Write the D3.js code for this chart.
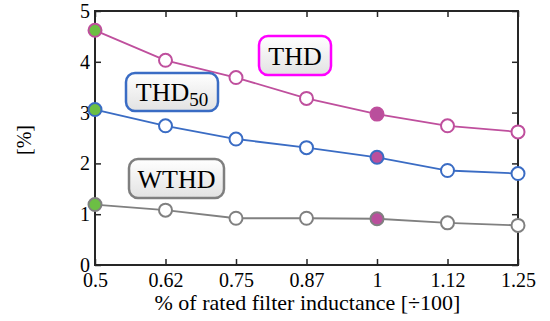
<!DOCTYPE html>
<html>
<head>
<meta charset="utf-8">
<script src="https://cdn.jsdelivr.net/npm/d3@7"></script>
</head>
<body style="margin:0">
<svg id="chart" width="550" height="321"></svg>
<script>
var categories = ["0.5", "0.62", "0.75", "0.87", "1", "1.12", "1.25"];
var thd   = [4.62, 4.03, 3.69, 3.28, 2.97, 2.74, 2.62];
var thd50 = [3.06, 2.74, 2.48, 2.31, 2.12, 1.86, 1.80];
var wthd  = [1.19, 1.08, 0.92, 0.92, 0.91, 0.83, 0.78];
var yTicks = [0, 1, 2, 3, 4, 5];

var serif = "Liberation Serif";

var margin = {left: 95, right: 32, top: 11, bottom: 56};
var width = 550 - margin.left - margin.right;
var height = 321 - margin.top - margin.bottom;

var svg = d3.select("#chart");
var g = svg.append("g").attr("transform", "translate(" + margin.left + "," + margin.top + ")");

var x = d3.scalePoint().domain(categories).range([0, width]);
var y = d3.scaleLinear().domain([0, 5]).range([height, 0]);

// frame
g.append("rect")
  .attr("width", width).attr("height", height)
  .attr("fill", "none").attr("stroke", "#262626").attr("stroke-width", 2);

// axes, ticks pointing inwards
var xAxis = g.append("g").attr("transform", "translate(0," + height + ")")
  .call(d3.axisBottom(x).tickSize(-6).tickPadding(8));
var yAxis = g.append("g")
  .call(d3.axisLeft(y).tickValues(yTicks).tickFormat(d3.format("d")).tickSize(-6).tickPadding(12));
g.append("g").call(d3.axisTop(x).tickSize(-6).tickFormat(""));
g.append("g").attr("transform", "translate(" + width + ",0)")
  .call(d3.axisRight(y).tickValues(yTicks).tickSize(-6).tickFormat(""));

g.selectAll(".domain").remove();
g.selectAll(".tick line").attr("stroke", "#262626").attr("stroke-width", 1.5);
g.selectAll("g").attr("font-family", serif).attr("font-size", 20);
g.selectAll(".tick text").attr("font-family", serif).attr("font-size", 20).attr("fill", "#000");
xAxis.selectAll(".tick text").attr("dy", "0.7em");
yAxis.selectAll(".tick text").attr("dx", "0.35em");

// axis titles
svg.append("text")
  .attr("x", margin.left + width / 2 + 1).attr("y", 310)
  .attr("text-anchor", "middle")
  .attr("font-family", serif).attr("font-size", 22)
  .text("% of rated filter inductance [\u00f7100]");
svg.append("text")
  .attr("transform", "translate(31," + (margin.top + height / 2 + 2) + ") rotate(-90)")
  .attr("text-anchor", "middle")
  .attr("font-family", serif).attr("font-size", 20)
  .text("[%]");

var series = [
  {name: "thd", values: thd, color: "#bf4f9d"},
  {name: "thd50", values: thd50, color: "#3a6cc4"},
  {name: "wthd", values: wthd, color: "#808080"}
];

var line = d3.line()
  .x(function(d, i) { return x(categories[i]); })
  .y(function(d) { return y(d); });

series.forEach(function(s) {
  g.append("path")
    .datum(s.values)
    .attr("d", line)
    .attr("fill", "none")
    .attr("stroke", s.color)
    .attr("stroke-width", 1.8);

  g.selectAll(".pt-" + s.name)
    .data(s.values)
    .enter().append("circle")
    .attr("cx", function(d, i) { return x(categories[i]); })
    .attr("cy", function(d) { return y(d); })
    .attr("r", 6.5)
    .attr("stroke", s.color)
    .attr("stroke-width", 2)
    .attr("fill", function(d, i) {
      if (i === 0) return "#6cbf44";
      if (categories[i] === "1") return "#b94f9c";
      return "#fff";
    });
});

// label boxes
var defs = svg.append("defs");
var grad = defs.append("linearGradient").attr("id", "boxgrad")
  .attr("x1", 0).attr("y1", 0).attr("x2", 0).attr("y2", 1);
grad.append("stop").attr("offset", "0%").attr("stop-color", "#ffffff");
grad.append("stop").attr("offset", "100%").attr("stop-color", "#e2e2e2");

function labelBox(x0, y0, w, h, color, main, sub) {
  svg.append("rect")
    .attr("x", x0).attr("y", y0).attr("width", w).attr("height", h)
    .attr("rx", 9).attr("ry", 9)
    .attr("fill", "url(#boxgrad)")
    .attr("stroke", color).attr("stroke-width", 2.5);
  var t = svg.append("text")
    .attr("x", x0 + w / 2).attr("y", y0 + h / 2 + 9)
    .attr("text-anchor", "middle")
    .attr("font-family", serif).attr("font-size", 26);
  t.append("tspan").text(main);
  if (sub) {
    t.append("tspan").attr("dy", 5).attr("font-size", 19).text(sub);
  }
}

labelBox(259, 36, 72, 39, "#ff00ff", "THD");
labelBox(126, 73, 92, 38, "#3a6cc4", "THD", "50");
labelBox(129, 159, 95, 39, "#7f7f7f", "WTHD");
</script>
</body>
</html>
